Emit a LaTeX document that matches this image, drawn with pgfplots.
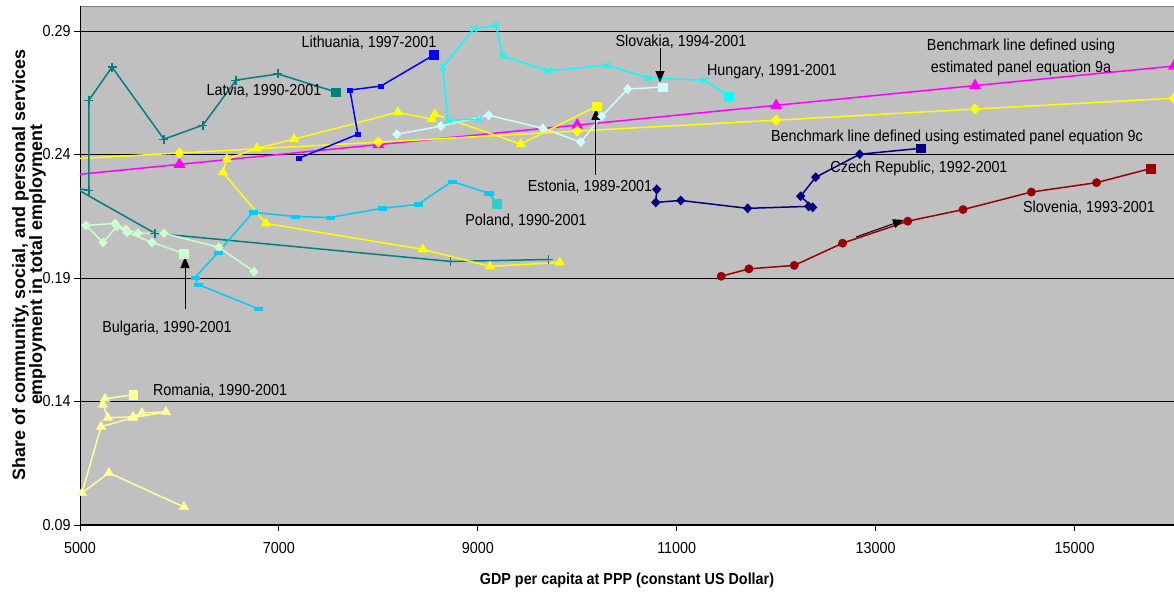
\documentclass[border=0pt]{standalone}
\usepackage{fontspec}
\setmainfont{Liberation Sans}[FakeStretch=0.9]
\newfontfamily\ytfont{Liberation Sans}
\usepackage{pgfplots}
\pgfplotsset{compat=1.18}
\usepackage{pgfplotstable}
\usetikzlibrary{arrows.meta}

\definecolor{plotbg}{HTML}{C0C0C0}
\definecolor{latvia}{HTML}{008080}
\definecolor{lith}{HTML}{0000FF}
\definecolor{hung}{HTML}{00FFFF}
\definecolor{slovak}{HTML}{CCFFFF}
\definecolor{bma}{HTML}{FF00FF}
\definecolor{yel}{HTML}{FFFF00}
\definecolor{pol}{HTML}{00CCFF}
\definecolor{polsq}{HTML}{33CCCC}
\definecolor{bulg}{HTML}{CCFFCC}
\definecolor{rom}{HTML}{FFFF99}
\definecolor{czech}{HTML}{000080}
\definecolor{slov}{HTML}{990000}

\pgfplotstableread{
x y
4000 0.2280
6000 0.2360
8000 0.2440
10000 0.2519
12000 0.2599
14000 0.2679
16000 0.2758
}\bmA
\pgfplotstableread{
x y
4000 0.2362
6000 0.2406
8000 0.2450
10000 0.2495
12000 0.2539
14000 0.2584
16000 0.2628
}\bmC
\pgfplotstableread{
x y
9713 0.1975
8729 0.1967
5754 0.2081
4950 0.2264
5090 0.2255
5090 0.2620
5322 0.2754
5844 0.2462
6236 0.2519
6568 0.2701
6990 0.2726
7573 0.2653
}\latviaT
\pgfplotstableread{
x y
7201 0.2385
7794 0.2482
7714 0.2661
8025 0.2677
8558 0.2803
}\lithT
\pgfplotstableread{
x y
9010 0.2543
8698 0.2539
8648 0.2754
8960 0.2908
9181 0.2924
9251 0.2799
9703 0.2738
10296 0.2762
10718 0.2709
11281 0.2701
11522 0.2636
}\hungT
\pgfplotstableread{
x y
8186 0.2482
8628 0.2515
9110 0.2559
9653 0.2506
10035 0.2450
10246 0.2555
10507 0.2665
10859 0.2673
}\slovakT
\pgfplotstableread{
x y
9824 0.1963
9121 0.1947
8447 0.2016
6869 0.2121
6437 0.2328
6477 0.2381
6779 0.2425
7151 0.2462
8196 0.2571
8538 0.2543
8568 0.2563
9432 0.2442
10196 0.2596
}\estT
\pgfplotstableread{
x y
6789 0.1776
6186 0.1874
6156 0.1902
6387 0.2003
6739 0.2166
7161 0.2149
7513 0.2145
8035 0.2182
8397 0.2198
8739 0.2291
9110 0.2243
9191 0.2202
}\polT
\pgfplotstableread{
x y
6749 0.1926
6397 0.2024
5844 0.2081
5583 0.2081
5462 0.2097
5352 0.2121
5060 0.2113
5231 0.2044
5372 0.2109
5472 0.2085
5724 0.2044
6045 0.1999
}\bulgT
\pgfplotstableread{
x y
6045 0.0973
5291 0.1111
5020 0.1030
5211 0.1298
5533 0.1334
5864 0.1358
5623 0.1354
5533 0.1338
5281 0.1334
5231 0.1387
5251 0.1411
5533 0.1427
}\romT
\pgfplotstableread{
x y
10799 0.2259
10789 0.2206
11040 0.2214
11713 0.2182
12326 0.2190
12367 0.2186
12246 0.2231
12397 0.2308
12839 0.2401
13452 0.2425
}\czechT
\pgfplotstableread{
x y
11447 0.1907
11726 0.1937
12182 0.1951
12668 0.2041
13323 0.2130
13879 0.2177
14566 0.2248
15221 0.2286
15763 0.2343
}\slovT

% #1 table, #2 colour, #3 mark, #4 mark keys, #5 last index, #6 square colour
\newcommand{\country}[6]{%
  \addplot[#2, line width=1.5bp, no markers, forget plot] table {#1};
  \addplot[#2, only marks, mark=#3, #4, skip coords between index={#5}{1000}, forget plot] table {#1};
  \addplot[#6, only marks, mark=square*, mark size=4.3bp, skip coords between index={0}{#5}, forget plot] table {#1};
}
\newcommand\lbl{\fontsize{16}{22}\selectfont}

\begin{document}
\begin{tikzpicture}
\path[use as bounding box] (0,0) rectangle (1174bp,594bp);
\begin{axis}[
  at={(80bp,69bp)}, anchor=south west,
  scale only axis, width=1094bp, height=518.7bp,
  xmin=5000, xmax=16000, ymin=0.09, ymax=0.30,
  xtick={5000,7000,9000,11000,13000,15000},
  xticklabels={5000,7000,9000,11000,13000,15000},
  scaled x ticks=false, scaled y ticks=false,
  ytick={0.09,0.14,0.19,0.24,0.29},
  yticklabels={0.09,0.14,0.19,0.24,0.29},
  axis x line*=bottom, axis y line*=left,
  axis line style={black, line width=1bp, -},
  tick align=outside, major tick length=6bp,
  tick style={black, line width=0.9bp},
  ymajorgrids, grid style={black, line width=0.9bp},
  axis background/.style={fill=plotbg, draw=gray, line width=1bp},
  ticklabel style={font=\fontsize{16}{18}\selectfont},
  xticklabel style={yshift=-8bp},
  /pgf/number format/assume math mode=true,
  clip=true,
]
\addplot[bma, line width=1.5bp, mark=triangle*, mark size=5.5bp, forget plot] table {\bmA};
\addplot[yel, line width=1.5bp, mark=diamond*, mark size=4.5bp, mark options={xscale=1.25}, forget plot] table {\bmC};

\country{\latviaT}{latvia}{+}{mark size=4.5bp, mark options={line width=1.2bp}}{11}{latvia}
\country{\bulgT}{bulg}{diamond*}{mark size=4.6bp, mark options={xscale=1.25}}{11}{bulg}
\country{\romT}{rom}{triangle*}{mark size=5.5bp}{11}{rom}
\country{\polT}{pol}{square*}{mark size=1.7bp, mark options={xscale=2.4}}{11}{polsq}
\country{\estT}{yel}{triangle*}{mark size=5.5bp}{12}{yel}
\country{\lithT}{lith}{square*}{mark size=1.8bp, mark options={xscale=1.5}}{4}{lith}
\country{\slovakT}{slovak}{diamond*}{mark size=4.6bp, mark options={xscale=1.25}}{7}{slovak}
\country{\hungT}{hung}{x}{mark size=4.5bp, mark options={line width=1.2bp}}{10}{hung}
\country{\czechT}{czech}{diamond*}{mark size=4.6bp, mark options={xscale=1.25}}{9}{czech}
\country{\slovT}{slov}{*}{mark size=4.2bp}{8}{slov}

\node[font=\lbl] at (axis cs:7906,0.2851) {Lithuania, 1997-2001};
\node[font=\lbl] at (axis cs:6850,0.2657) {Latvia, 1990-2001};
\node[font=\lbl] at (axis cs:11958,0.2734) {Hungary, 1991-2001};
\node[font=\lbl, align=center] at (axis cs:14462,0.2795) {Benchmark line defined using\\estimated panel equation 9a};
\node[font=\lbl] at (axis cs:13818,0.2471) {Benchmark line defined using estimated panel equation 9c};
\node[font=\lbl] at (axis cs:13436,0.2345) {Czech Republic, 1992-2001};
\node[font=\lbl] at (axis cs:15145,0.2183) {Slovenia, 1993-2001};
\node[font=\lbl] at (axis cs:9485,0.2131) {Poland, 1990-2001};
\node[font=\lbl] at (axis cs:10128,0.2268) {Estonia, 1989-2001};
\node[font=\lbl] at (axis cs:11043,0.2855) {Slovakia, 1994-2001};
\node[font=\lbl] at (axis cs:5875,0.1698) {Bulgaria, 1990-2001};
\node[font=\lbl] at (axis cs:6408,0.1442) {Romania, 1990-2001};

\draw[-{Triangle[length=11bp,width=9bp]}, line width=1bp] (axis cs:10188,0.2317) -- (axis cs:10188,0.2585);
\draw[-{Triangle[length=11bp,width=9bp]}, line width=1bp] (axis cs:10832,0.2831) -- (axis cs:10832,0.2693);
\draw[-{Triangle[length=11bp,width=9bp]}, line width=1bp] (axis cs:6056,0.1774) -- (axis cs:6056,0.1985);
\draw[-{Triangle[length=11bp,width=9bp]}, line width=1bp] (axis cs:12803,0.2066) -- (axis cs:13285,0.2135);
\end{axis}
\node[rotate=90, align=center, font=\ytfont\bfseries\fontsize{18}{17}\selectfont] at (29bp,329bp) {Share of community, social, and personal services\\employment in total employment};
\node[font=\bfseries\fontsize{16}{18}\selectfont] at (627bp,14bp) {GDP per capita at PPP (constant US Dollar)};
\end{tikzpicture}
\end{document}
